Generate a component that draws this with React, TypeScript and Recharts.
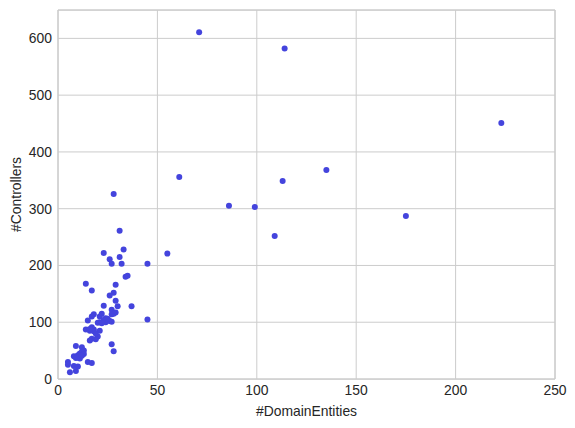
import React from "react";
import {
  ScatterChart,
  Scatter,
  XAxis,
  YAxis,
  CartesianGrid,
  ReferenceLine,
} from "recharts";

// #DomainEntities per project
const domainEntities = [
  71, 114, 223, 61, 135, 113, 86, 99, 175, 109,
  55, 45, 45, 28, 31, 33, 23, 31, 26, 27,
  32, 34, 35, 14, 29, 17, 28, 26, 29, 23,
  30, 37, 27, 29, 28, 27, 22, 18, 17, 21,
  15, 24, 25, 24, 26, 27, 21, 20, 14, 17,
  18, 16, 21, 18, 20, 19, 17, 16, 27, 28,
  9, 12, 13, 12, 11, 10, 8, 9, 11, 15,
  17, 5, 5, 8, 10, 9, 6, 23, 25, 22,
  16, 19, 13, 10, 12,
];

// #Controllers per project
const controllers = [
  611, 582, 451, 356, 368, 349, 305, 303, 287, 252,
  221, 203, 105, 326, 261, 228, 222, 215, 211, 203,
  203, 180, 182, 168, 166, 156, 152, 147, 138, 129,
  128, 128, 122, 117, 115, 114, 115, 114, 110, 110,
  103, 107, 103, 100, 102, 101, 100, 99, 87, 91,
  87, 85, 85, 84, 75, 70, 71, 68, 61, 49,
  58, 56, 50, 48, 45, 42, 40, 37, 36, 30,
  28, 30, 25, 23, 22, 14, 12, 104, 106, 98,
  88, 80, 44, 38, 41,
];

const xTicks = [0, 50, 100, 150, 200, 250];
const yTicks = [0, 100, 200, 300, 400, 500, 600];

const points = domainEntities.map((x, i) => ({ x, y: controllers[i] }));

const tickStyle = { fill: "#262626", fontSize: 13.9, fontFamily: "Liberation Sans, Arial, sans-serif" };

export default function App() {
  return (
    <div style={{ position: "absolute", left: 0, top: 0, background: "#fff" }}>
      <ScatterChart
        width={575}
        height={428}
        margin={{ top: 10, right: 20, bottom: 0, left: 8 }}
      >
        <CartesianGrid stroke="#cccccc" strokeWidth={1} />
        <XAxis
          type="number"
          dataKey="x"
          domain={[0, 250]}
          ticks={xTicks}
          allowDataOverflow
          tickLine={false}
          tickSize={0}
          tickMargin={6}
          axisLine={{ stroke: "#cccccc", strokeWidth: 1.25 }}
          tick={tickStyle}
          height={49}
          label={{
            value: "#DomainEntities",
            position: "insideBottom",
            offset: 12,
            style: { ...tickStyle, textAnchor: "middle" },
          }}
        />
        <YAxis
          type="number"
          dataKey="y"
          domain={[0, 650]}
          ticks={yTicks}
          allowDataOverflow
          tickLine={false}
          tickSize={0}
          tickMargin={6}
          axisLine={{ stroke: "#cccccc", strokeWidth: 1.25 }}
          tick={tickStyle}
          width={50}
          label={{
            value: "#Controllers",
            angle: -90,
            position: "insideLeft",
            offset: 8,
            style: { ...tickStyle, textAnchor: "middle" },
          }}
        />
        <ReferenceLine y={650} stroke="#cccccc" strokeWidth={1.25} />
        <ReferenceLine x={250} stroke="#cccccc" strokeWidth={1.25} />
        <Scatter
          data={points}
          fill="#4444dd"
          isAnimationActive={false}
          shape={(props: any) => (
            <circle cx={props.cx} cy={props.cy} r={3} fill="#4444dd" />
          )}
        />
      </ScatterChart>
    </div>
  );
}
